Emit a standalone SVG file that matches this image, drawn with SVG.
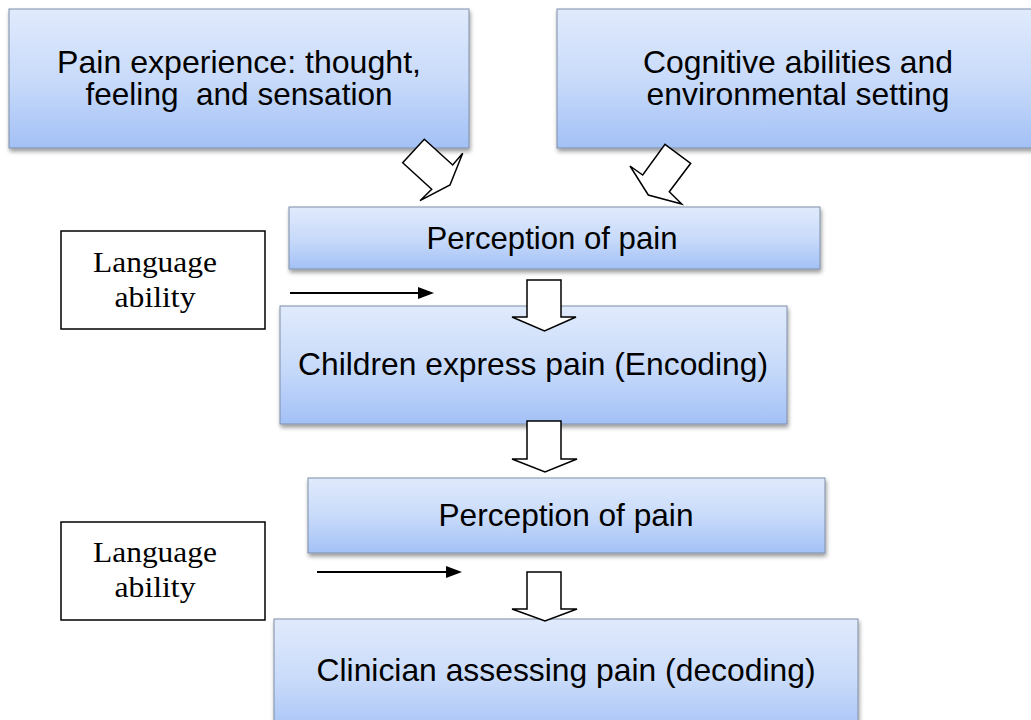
<svg xmlns="http://www.w3.org/2000/svg" width="1031" height="720" viewBox="0 0 1031 720">
<defs>
  <linearGradient id="blue" x1="0" y1="0" x2="0" y2="1">
    <stop offset="0" stop-color="#e0eafc"/>
    <stop offset="0.5" stop-color="#c9dbfa"/>
    <stop offset="1" stop-color="#a3c1f6"/>
  </linearGradient>
  <filter id="shadow" x="-5%" y="-10%" width="115%" height="130%">
    <feDropShadow dx="1" dy="3" stdDeviation="2" flood-color="#000" flood-opacity="0.4"/>
  </filter>
  <marker id="arr" markerUnits="userSpaceOnUse" markerWidth="16" markerHeight="12" refX="0" refY="6" orient="auto">
    <path d="M0,0 L16,6 L0,12 z" fill="#000"/>
  </marker>
</defs>
<style>
  .box { fill: url(#blue); stroke: #7f8ea8; stroke-width: 1; filter: url(#shadow); }
  .plain { fill: #fff; stroke: #000; stroke-width: 1.5; }
  .t { font-family: "Liberation Sans", Arial, sans-serif; fill: #000; text-anchor: middle; }
  .s { font-family: "Liberation Serif", "Times New Roman", serif; fill: #000; text-anchor: middle; font-size: 29px; }
  .blk { fill: #fff; stroke: #000; stroke-width: 1.5; stroke-linejoin: miter; }
  .ln { stroke: #000; stroke-width: 2; fill: none; }
</style>

<g id="node-pain-experience">
  <rect class="box" x="9" y="9" width="460" height="139"/>
  <text class="t" x="239" y="73" font-size="30.5" textLength="364" lengthAdjust="spacingAndGlyphs">Pain experience: thought,</text>
  <text class="t" x="239" y="105" font-size="30.5" textLength="307" lengthAdjust="spacingAndGlyphs" xml:space="preserve">feeling  and sensation</text>
</g>

<g id="node-cognitive">
  <rect class="box" x="557" y="9" width="484" height="139"/>
  <text class="t" x="798" y="73" font-size="30.5" textLength="310" lengthAdjust="spacingAndGlyphs">Cognitive abilities and</text>
  <text class="t" x="798" y="105" font-size="30.5" textLength="303" lengthAdjust="spacingAndGlyphs">environmental setting</text>
</g>

<g id="node-perception-1">
  <rect class="box" x="289" y="207" width="531" height="62"/>
  <text class="t" x="552" y="249" font-size="31.5" textLength="251" lengthAdjust="spacingAndGlyphs">Perception of pain</text>
</g>

<g id="node-language-1">
  <rect class="plain" x="61" y="231" width="204" height="98"/>
  <text class="s" x="155" y="272" textLength="124" lengthAdjust="spacingAndGlyphs">Language</text>
  <text class="s" x="155" y="307" textLength="81" lengthAdjust="spacingAndGlyphs">ability</text>
</g>

<g id="node-children">
  <rect class="box" x="280" y="306" width="507" height="118"/>
  <text class="t" x="533" y="375" font-size="31.5" textLength="470" lengthAdjust="spacingAndGlyphs">Children express pain (Encoding)</text>
</g>

<g id="node-perception-2">
  <rect class="box" x="308" y="478" width="517" height="75"/>
  <text class="t" x="566" y="526" font-size="31.5" textLength="255" lengthAdjust="spacingAndGlyphs">Perception of pain</text>
</g>

<g id="node-language-2">
  <rect class="plain" x="61" y="522" width="204" height="98"/>
  <text class="s" x="155" y="562" textLength="124" lengthAdjust="spacingAndGlyphs">Language</text>
  <text class="s" x="155" y="597" textLength="81" lengthAdjust="spacingAndGlyphs">ability</text>
</g>

<g id="node-clinician">
  <rect class="box" x="274" y="619" width="584" height="120"/>
  <text class="t" x="566" y="681" font-size="31.5" textLength="499" lengthAdjust="spacingAndGlyphs">Clinician assessing pain (decoding)</text>
</g>

<g id="connectors">
  <polygon class="blk" points="424.3,139.3 452.7,165 462.7,153.3 450,185 420,200.7 431.7,189.3 402.7,162.7"/>
  <polygon class="blk" points="665,144.3 690.7,163.3 669.3,191.7 681.7,204 648.3,195 630,166 642.7,175"/>
  <polygon class="blk" points="527,280 561,280 561,317 576,317 544.5,331 512,317 527,317"/>
  <polygon class="blk" points="527,421 561,421 561,459 577,459 545,472 512,459 527,459"/>
  <polygon class="blk" points="527,572 561,572 561,609 577,609 545,621 512,609 527,609"/>
  <line class="ln" x1="290" y1="293" x2="418" y2="293" marker-end="url(#arr)"/>
  <line class="ln" x1="317" y1="572" x2="446" y2="572" marker-end="url(#arr)"/>
</g>
</svg>
